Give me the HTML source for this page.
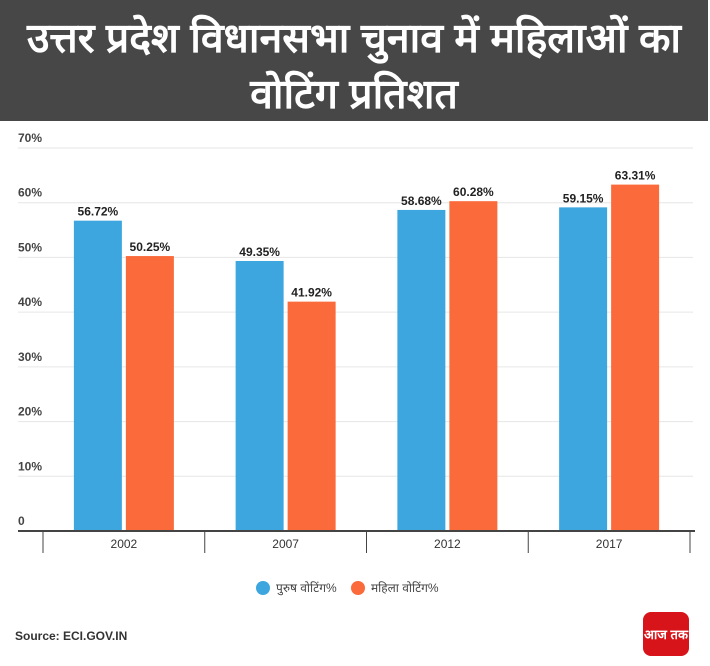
<!DOCTYPE html>
<html><head><meta charset="utf-8"><style>
body{margin:0;width:710px;height:666px;background:#fff;font-family:"Liberation Sans","Noto Sans CJK SC",sans-serif;overflow:hidden;position:relative}
#hdr{position:absolute;left:0;top:0;width:708px;height:121px;background:#474747;color:#fff;text-align:center;font-weight:bold;font-size:41px;line-height:56px;padding-top:10px;box-sizing:border-box;font-family:"Liberation Sans","Noto Sans CJK SC","WenQuanYi Zen Hei",sans-serif;white-space:nowrap}
</style></head><body>
<div id="hdr">उत्तर प्रदेश विधानसभा चुनाव में महिलाओं का<br>वोटिंग प्रतिशत</div>
<svg id="c" width="710" height="666" style="position:absolute;left:0;top:0"></svg>
<script>
const categories=["2002","2007","2012","2017"];
const maleValues=[56.72,49.35,58.68,59.15];
const femaleValues=[50.25,41.92,60.28,63.31];
const yTicks=[0,10,20,30,40,50,60,70];
const legendLabels=["पुरुष वोटिंग%","महिला वोटिंग%"];
const colors=["#3ea6df","#fb6a3a"];
const svg=document.getElementById('c');
const NS="http://www.w3.org/2000/svg";
const y0=531,yTop=148,x0=43,x1=690;
const y=v=>y0-(v/70)*(y0-yTop);
const bw=(x1-x0)/categories.length;
const cx=i=>x0+bw*(i+0.5);
function mk(t,a,txt){const e=document.createElementNS(NS,t);for(const k in a)e.setAttribute(k,a[k]);if(txt!==undefined)e.textContent=txt;svg.appendChild(e);return e;}
yTicks.forEach(t=>{
  if(t>0){const g=mk('line',{x1:18,x2:693,y1:y(t),y2:y(t),stroke:'#e6e6e6','stroke-width':1});
  
  }
  const l=mk('text',{x:18,y:y(t)-6,'font-size':12,fill:'#444','font-weight':'bold'},t===0?'0':t+'%');
  
  
});
categories.forEach((c,i)=>{
  [[maleValues,-50],[femaleValues,2]].forEach(([arr,off],s)=>{
    const v=arr[i];
    const r=mk('rect',{x:cx(i)+off,y:y(v),width:48,height:y0-y(v),fill:colors[s]});
    
    
    const t=mk('text',{x:cx(i)+off+24,y:y(v)-5,'font-size':12,'font-weight':'bold','text-anchor':'middle',fill:'#222'},v.toFixed(2)+'%');
    
    
  });
  const cl=mk('text',{x:cx(i),y:548,'font-size':12,'text-anchor':'middle',fill:'#333'},c);
  
  
});
for(let i=0;i<=categories.length;i++){
  const s=mk('line',{x1:x0+bw*i,x2:x0+bw*i,y1:y0,y2:553,stroke:'#444','stroke-width':1});
  
  
}
const ax=mk('line',{x1:18,x2:695,y1:y0,y2:y0,stroke:'#444','stroke-width':2});


[[263,0],[358,1]].forEach(([lx,s])=>{
  const c=mk('circle',{cx:lx,cy:588,r:7,fill:colors[s]});
  
  
  const t=mk('text',{x:lx+13,y:592,'font-size':12,fill:'#444'},legendLabels[s]);
  
  
});
const src=mk('text',{x:15,y:640,'font-size':12,'font-weight':'bold',fill:'#333'},'Source: ECI.GOV.IN');


const lg=mk('rect',{x:643,y:612,width:46,height:44,rx:8,fill:'#d7141a'});


const lt=mk('text',{x:666,y:639,'font-size':13,'font-weight':'bold','text-anchor':'middle',fill:'#fff'},'आज तक');


</script>
</body></html>
